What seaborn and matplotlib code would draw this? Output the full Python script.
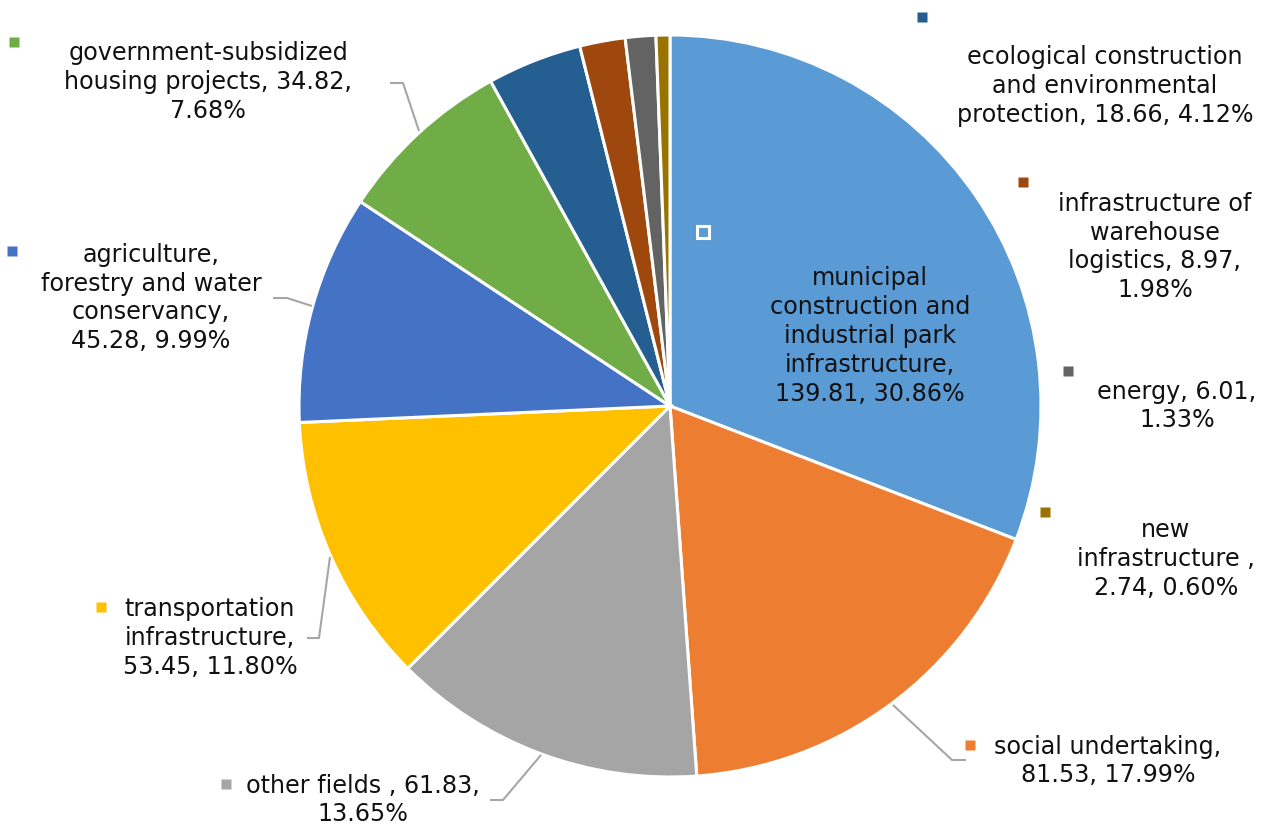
import matplotlib
matplotlib.use("Agg")
import matplotlib.pyplot as plt
import seaborn as sns

# Investment by field (value, share of total)
categories = [
    "municipal construction and industrial park infrastructure",
    "social undertaking",
    "other fields",
    "transportation infrastructure",
    "agriculture, forestry and water conservancy",
    "government-subsidized housing projects",
    "ecological construction and environmental protection",
    "infrastructure of warehouse logistics",
    "energy",
    "new infrastructure",
]
values = [139.81, 81.53, 61.83, 53.45, 45.28, 34.82, 18.66, 8.97, 6.01, 2.74]
labels = [
    "municipal\nconstruction and\nindustrial park\ninfrastructure,\n139.81, 30.86%",
    "social undertaking,\n81.53, 17.99%",
    "other fields , 61.83,\n13.65%",
    "transportation\ninfrastructure,\n53.45, 11.80%",
    "agriculture,\nforestry and water\nconservancy,\n45.28, 9.99%",
    "government-subsidized\nhousing projects, 34.82,\n7.68%",
    "ecological construction\nand environmental\nprotection, 18.66, 4.12%",
    "infrastructure of\nwarehouse\nlogistics, 8.97,\n1.98%",
    "energy, 6.01,\n1.33%",
    "new\ninfrastructure ,\n2.74, 0.60%",
]
colors = ["#5B9BD5", "#ED7D31", "#A5A5A5", "#FFC000", "#4472C4",
          "#70AD47", "#255E91", "#9E480E", "#636363", "#997300"]

# layout in pixel coordinates (pie centre 670,406 radius 371)
CX, CY, R = 670, 406, 371
text_pos = [(870, 336), (1108, 761), (363, 800), (210, 638), (151, 298),
            (208, 82), (1105, 86), (1155, 247), (1177, 406), (1166, 559)]
marker_pos = [(703, 232), (970, 745), (226, 784), (101, 607), (12, 251),
              (14, 42), (922, 17), (1023, 182), (1068, 371), (1045, 512)]
leaders = {
    1: [(893, 705), (952, 760), (966, 760)],
    2: [(541, 755), (503, 800), (490, 800)],
    3: [(330, 557), (319, 638), (307, 638)],
    4: [(312, 306), (287, 298), (273, 298)],
    5: [(419, 131), (403, 83), (390, 83)],
}


def px(x, y):
    return (x - CX) / R, (CY - y) / R


sns.set_theme(style="white")
plt.rcParams["font.family"] = ["DejaVu Sans"]

fig = plt.figure(figsize=(12.72, 8.30), dpi=100)
ax = fig.add_axes([0, 0, 1, 1])
ax.pie(values, colors=sns.color_palette(colors), startangle=90, counterclock=False,
       radius=1, wedgeprops=dict(edgecolor="white", linewidth=2.2))
ax.set_xlim(px(0, 0)[0], px(1272, 0)[0])
ax.set_ylim(px(0, 830)[1], px(0, 0)[1])
ax.set_aspect("equal")
ax.axis("off")

for i, lab in enumerate(labels):
    tx, ty = px(*text_pos[i])
    ax.text(tx, ty, lab, ha="center", va="center", multialignment="center",
            fontsize=17.2, color="#111111", linespacing=1.25)
    mx, my = px(*marker_pos[i])
    if i == 0:
        ax.plot(mx, my, marker="s", ms=8, mfc=colors[i], mec="white", mew=2.2)
    else:
        ax.plot(mx, my, marker="s", ms=6.5, mfc=colors[i], mec="none")

for i, pts in leaders.items():
    xs, ys = zip(*[px(x, y) for x, y in pts])
    ax.plot(xs, ys, color="#A6A6A6", lw=1.5, solid_capstyle="butt")

fig.savefig("out.png", dpi=100, facecolor="white")
